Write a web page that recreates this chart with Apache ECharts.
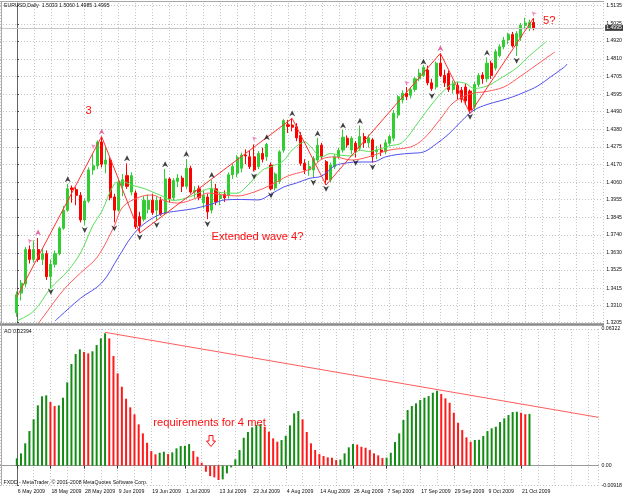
<!DOCTYPE html>
<html>
<head>
<meta charset="utf-8">
<script src="https://cdn.jsdelivr.net/npm/echarts@6/dist/echarts.min.js"></script>
<style>
  html, body { margin: 0; padding: 0; background: #fff; }
  #chart { width: 625px; height: 496px; }
</style>
</head>
<body>
<div id="chart"></div>
<script>
// date labels, one every 8 daily bars
var dateLabels = ['6 May 2009', '18 May 2009', '28 May 2009', '9 Jun 2009', '19 Jun 2009', '1 Jul 2009',
  '13 Jul 2009', '23 Jul 2009', '4 Aug 2009', '14 Aug 2009', '26 Aug 2009', '7 Sep 2009',
  '17 Sep 2009', '29 Sep 2009', '9 Oct 2009', '21 Oct 2009'];

var priceTicks = [1.5135, 1.5025, 1.4920, 1.4810, 1.4705, 1.4595, 1.4490, 1.4380, 1.4275, 1.4170,
  1.4060, 1.3955, 1.3845, 1.3740, 1.3630, 1.3525, 1.3415, 1.3310, 1.3205];
var aoTicks = [0.06322, 0, -0.00918];

// daily bars: open, high, low, close
var candles = [
  [1.3265, 1.3395, 1.3240, 1.3375], [1.3385, 1.3465, 1.3340, 1.3445], [1.3440, 1.3665, 1.3420, 1.3650],
  [1.3650, 1.3675, 1.3565, 1.3590], [1.3590, 1.3705, 1.3570, 1.3650], [1.3650, 1.3720, 1.3575, 1.3590],
  [1.3590, 1.3660, 1.3555, 1.3625], [1.3625, 1.3645, 1.3465, 1.3485], [1.3485, 1.3590, 1.3415, 1.3560],
  [1.3560, 1.3645, 1.3540, 1.3625], [1.3625, 1.3790, 1.3615, 1.3780], [1.3780, 1.3915, 1.3770, 1.3890],
  [1.3890, 1.4050, 1.3880, 1.4020], [1.4025, 1.4040, 1.3935, 1.4015], [1.4015, 1.4030, 1.3920, 1.3980],
  [1.3980, 1.4000, 1.3815, 1.3830], [1.3830, 1.3960, 1.3800, 1.3945], [1.3945, 1.4150, 1.3935, 1.4135],
  [1.4135, 1.4230, 1.4105, 1.4160], [1.4160, 1.4315, 1.4140, 1.4305], [1.4305, 1.4338, 1.4150, 1.4170],
  [1.4170, 1.4275, 1.4115, 1.4195], [1.4195, 1.4210, 1.3950, 1.3965], [1.3970, 1.3990, 1.3815, 1.3890],
  [1.3890, 1.4075, 1.3880, 1.4060], [1.4040, 1.4110, 1.3975, 1.4075], [1.4100, 1.4175, 1.4020, 1.4035],
  [1.4000, 1.4120, 1.3980, 1.4100], [1.3995, 1.4010, 1.3775, 1.3790], [1.3850, 1.3880, 1.3750, 1.3795],
  [1.3835, 1.3975, 1.3820, 1.3950], [1.3895, 1.3985, 1.3870, 1.3950], [1.3950, 1.3990, 1.3860, 1.3875],
  [1.3890, 1.3975, 1.3830, 1.3950], [1.3950, 1.3970, 1.3855, 1.3865], [1.3870, 1.4140, 1.3860, 1.4080],
  [1.4080, 1.4090, 1.3935, 1.3960], [1.3965, 1.4085, 1.3950, 1.4070], [1.4065, 1.4110, 1.4030, 1.4085],
  [1.4085, 1.4100, 1.4000, 1.4035], [1.4035, 1.4200, 1.4020, 1.4145], [1.4145, 1.4160, 1.3990, 1.4000],
  [1.4000, 1.4035, 1.3965, 1.4010], [1.4020, 1.4040, 1.3950, 1.3965], [1.3935, 1.4010, 1.3900, 1.3980],
  [1.3970, 1.3990, 1.3835, 1.3880], [1.3890, 1.4075, 1.3870, 1.4020], [1.4020, 1.4050, 1.3920, 1.3940],
  [1.3960, 1.4000, 1.3920, 1.3980], [1.3985, 1.4010, 1.3940, 1.3965], [1.3980, 1.4120, 1.3960, 1.4105],
  [1.4105, 1.4175, 1.4080, 1.4155], [1.4115, 1.4225, 1.4090, 1.4210], [1.4145, 1.4240, 1.4120, 1.4225],
  [1.4225, 1.4260, 1.4170, 1.4220], [1.4215, 1.4250, 1.4140, 1.4155], [1.4215, 1.4290, 1.4125, 1.4135],
  [1.4155, 1.4250, 1.4140, 1.4235], [1.4235, 1.4270, 1.4180, 1.4200], [1.4215, 1.4300, 1.4190, 1.4290],
  [1.4165, 1.4180, 1.4010, 1.4020], [1.4025, 1.4120, 1.4010, 1.4110], [1.4065, 1.4255, 1.4050, 1.4245],
  [1.4255, 1.4445, 1.4240, 1.4435], [1.4410, 1.4440, 1.4360, 1.4400], [1.4408, 1.4449, 1.4370, 1.4395],
  [1.4398, 1.4420, 1.4310, 1.4330], [1.4345, 1.4365, 1.4160, 1.4175], [1.4175, 1.4200, 1.4110, 1.4135],
  [1.4135, 1.4190, 1.4100, 1.4155], [1.4135, 1.4220, 1.4085, 1.4205], [1.4195, 1.4330, 1.4180, 1.4285],
  [1.4285, 1.4300, 1.4200, 1.4215], [1.4185, 1.4195, 1.4043, 1.4075], [1.4075, 1.4180, 1.4060, 1.4165],
  [1.4155, 1.4230, 1.4140, 1.4215], [1.4215, 1.4270, 1.4200, 1.4255], [1.4256, 1.4380, 1.4240, 1.4334],
  [1.4328, 1.4345, 1.4270, 1.4287], [1.4256, 1.4340, 1.4230, 1.4328], [1.4297, 1.4310, 1.4210, 1.4246],
  [1.4267, 1.4405, 1.4250, 1.4338], [1.4338, 1.4360, 1.4270, 1.4300], [1.4300, 1.4350, 1.4270, 1.4330],
  [1.4318, 1.4330, 1.4180, 1.4215], [1.4246, 1.4280, 1.4200, 1.4256], [1.4256, 1.4290, 1.4220, 1.4246],
  [1.4246, 1.4320, 1.4230, 1.4300], [1.4297, 1.4350, 1.4280, 1.4338], [1.4328, 1.4500, 1.4310, 1.4480],
  [1.4469, 1.4590, 1.4450, 1.4581], [1.4561, 1.4620, 1.4540, 1.4602], [1.4602, 1.4640, 1.4560, 1.4581],
  [1.4590, 1.4640, 1.4570, 1.4625], [1.4625, 1.4700, 1.4610, 1.4690], [1.4690, 1.4750, 1.4675, 1.4725],
  [1.4710, 1.4775, 1.4700, 1.4760], [1.4743, 1.4770, 1.4650, 1.4665], [1.4665, 1.4690, 1.4616, 1.4630],
  [1.4640, 1.4795, 1.4625, 1.4785], [1.4785, 1.4845, 1.4700, 1.4710], [1.4710, 1.4745, 1.4640, 1.4665],
  [1.4722, 1.4740, 1.4610, 1.4625], [1.4625, 1.4680, 1.4600, 1.4660], [1.4650, 1.4670, 1.4560, 1.4600],
  [1.4620, 1.4640, 1.4545, 1.4565], [1.4640, 1.4660, 1.4530, 1.4555], [1.4615, 1.4625, 1.4480, 1.4500],
  [1.4520, 1.4670, 1.4490, 1.4655], [1.4655, 1.4725, 1.4640, 1.4710], [1.4713, 1.4730, 1.4660, 1.4690],
  [1.4690, 1.4820, 1.4670, 1.4785], [1.4785, 1.4800, 1.4690, 1.4710], [1.4755, 1.4870, 1.4740, 1.4855],
  [1.4830, 1.4900, 1.4820, 1.4885], [1.4885, 1.4945, 1.4870, 1.4926], [1.4926, 1.4970, 1.4900, 1.4960],
  [1.4960, 1.4975, 1.4880, 1.4890], [1.4890, 1.4980, 1.4829, 1.4965], [1.4940, 1.5030, 1.4920, 1.5015],
  [1.5015, 1.5061, 1.4990, 1.5030], [1.5000, 1.5050, 1.4980, 1.5033], [1.5033, 1.5060, 1.4985, 1.4995]
];

// Alligator lines: [bar, price]
var jaw = [[9, 1.3215], [10, 1.3239], [15, 1.3353], [20, 1.3446], [24, 1.3605], [27, 1.3726], [30, 1.3806],
  [34, 1.3866], [38, 1.3885], [42, 1.3900], [46, 1.3927], [49, 1.3952], [53, 1.3955], [57, 1.3952],
  [60, 1.3988], [63, 1.4031], [66, 1.4055], [69, 1.4083], [72, 1.4098], [75, 1.4159], [78, 1.4178],
  [81, 1.4183], [84, 1.4183], [87, 1.4214], [90, 1.4229], [93, 1.4236], [96, 1.4244], [99, 1.4293],
  [102, 1.4354], [105, 1.4433], [108, 1.4500], [111, 1.4533], [114, 1.4555], [117, 1.4579], [120, 1.4610],
  [123, 1.4646], [126, 1.4701], [129, 1.4756], [130, 1.4780]];
var teeth = [[4, 1.3163], [6, 1.3233], [11, 1.3404], [15, 1.3507], [19, 1.3605], [23, 1.3794], [25, 1.3910],
  [29, 1.3970], [32, 1.3982], [35, 1.3946], [38, 1.3933], [43, 1.3970], [45, 1.3994], [49, 1.3982],
  [52, 1.3976], [56, 1.4000], [60, 1.4043], [64, 1.4098], [68, 1.4128], [70, 1.4153], [72, 1.4201],
  [75, 1.4214], [79, 1.4195], [83, 1.4214], [88, 1.4256], [93, 1.4275], [96, 1.4323], [100, 1.4445],
  [103, 1.4543], [107, 1.4597], [111, 1.4613], [115, 1.4640], [119, 1.4707], [124, 1.4798], [127, 1.4853]];
var lips = [[0, 1.3215], [4, 1.3276], [8, 1.3416], [12, 1.3519], [15, 1.3629], [18, 1.3800], [20, 1.3880],
  [23, 1.4049], [25, 1.4064], [27, 1.4043], [30, 1.4022], [34, 1.3979], [37, 1.3949], [41, 1.3973],
  [46, 1.4022], [48, 1.3997], [52, 1.3993], [54, 1.4028], [58, 1.4134], [60, 1.4154], [63, 1.4192],
  [65, 1.4256], [68, 1.4305], [69, 1.4287], [72, 1.4214], [74, 1.4235], [76, 1.4226], [79, 1.4220],
  [81, 1.4256], [83, 1.4247], [86, 1.4265], [88, 1.4281], [91, 1.4302], [95, 1.4433], [98, 1.4536],
  [101, 1.4622], [104, 1.4670], [106, 1.4661], [108, 1.4631], [111, 1.4646], [114, 1.4689], [118, 1.4756],
  [121, 1.4829], [125, 1.4916]];

var zigzag = [[0, 1.3362], [20, 1.4338], [29, 1.3750], [65, 1.4449], [73, 1.4043], [100, 1.4845],
  [107, 1.4480], [122, 1.5060]];

var fractalUp = [[12, 1.4078], [26, 1.4206], [35, 1.4169], [40, 1.4232], [46, 1.4104], [59, 1.4334],
  [65, 1.4479], [71, 1.4357], [77, 1.4405], [81, 1.4433], [96, 1.4794], [111, 1.4849]];
var fractalDown = [[8, 1.3393], [16, 1.3769], [23, 1.3779], [29, 1.3725], [33, 1.3799], [45, 1.3806],
  [56, 1.4095], [60, 1.3980], [70, 1.4058], [73, 1.4020], [80, 1.4179], [84, 1.4151], [98, 1.4585],
  [107, 1.4459], [118, 1.4800]];
var pinkUp = [[5, 1.3753], [20, 1.4368], [100, 1.4876]];
var pinkTilt = [[3, 1.3704], [18, 1.4281], [56, 1.4327], [92, 1.4666], [122, 1.5089]];

// Awesome Oscillator, one value per bar
var ao = [0.00338, 0.00569, 0.01032, 0.01601, 0.02142, 0.0279, 0.03207, 0.03253, 0.02943, 0.02758,
  0.0279, 0.03142, 0.03854, 0.04701, 0.05164, 0.05381, 0.05256, 0.05196, 0.05289, 0.0558,
  0.0589, 0.06122, 0.0589, 0.05071, 0.04271, 0.03651, 0.03095, 0.02698, 0.02374, 0.01911,
  0.01495, 0.0106, 0.00676, 0.00523, 0.00597, 0.00643, 0.00537, 0.00615, 0.008, 0.00907,
  0.00921, 0.00999, 0.00676, 0.00412, 0.00134, -0.00282, -0.00481, -0.00541, -0.00666, -0.00634,
  -0.00356, -0.00079, 0.00292, 0.00722, 0.01291, 0.01555, 0.01772, 0.01879, 0.01925, 0.018,
  0.01569, 0.01263, 0.01106, 0.01185, 0.01383, 0.01865, 0.0242, 0.02526, 0.02142, 0.01555,
  0.01032, 0.00722, 0.00537, 0.00444, 0.00384, 0.00366, 0.00259, 0.00282, 0.00569, 0.00847,
  0.00999, 0.00976, 0.00875, 0.00828, 0.00722, 0.00569, 0.00477, 0.00352, 0.0037, 0.00597,
  0.01092, 0.01495, 0.0211, 0.02573, 0.02758, 0.02883, 0.03035, 0.03142, 0.0322, 0.03373,
  0.03466, 0.03313, 0.03114, 0.0291, 0.02448, 0.01985, 0.01647, 0.01309, 0.01106, 0.01185,
  0.01198, 0.0137, 0.01601, 0.01726, 0.018, 0.02017, 0.02189, 0.02341, 0.0248, 0.02494,
  0.02448, 0.0238, 0.02394];
var aoTrend = [[21, 0.06168], [138.43, 0.02235]];

var FONT = '"Liberation Sans", Arial, sans-serif';
var UP_PATH = 'path://M5 0 L10 10 L5 7 L0 10 Z';
var DOWN_PATH = 'path://M0 0 L5 3 L10 0 L5 10 Z';

var chart = echarts.init(document.getElementById('chart'), null, { renderer: 'canvas' });

var gridLine = { show: true, lineStyle: { color: '#c4c4c4', width: 1, type: [1, 2] } };
var xCommon = { type: 'value', min: -4, max: 138.43, interval: 4 };

var option = {
  animation: false,
  backgroundColor: '#ffffff',
  textStyle: { fontFamily: FONT },
  grid: [
    { left: -15.7, width: 619.7, top: 3, height: 320 },
    { left: -15.7, width: 619.7, top: 329, height: 156.5 }
  ],
  xAxis: [
    Object.assign({ gridIndex: 0, axisLine: { show: false }, axisTick: { show: false },
      axisLabel: { show: false }, splitLine: gridLine }, xCommon),
    Object.assign({ gridIndex: 1, position: 'bottom',
      axisLine: { show: true, lineStyle: { color: '#9a9a9a' } },
      axisTick: { show: true, length: 3, customValues: dateLabels.map(function (d, k) { return k * 8; }),
        lineStyle: { color: '#333' } },
      axisLabel: { show: true, customValues: dateLabels.map(function (d, k) { return k * 8; }),
        formatter: function (v) { return dateLabels[Math.round(v / 8)] || ''; },
        fontSize: 5.2, color: '#111', align: 'left', margin: 4, padding: [0, 0, 0, 1] },
      splitLine: { show: false } }, xCommon),
    Object.assign({ gridIndex: 1, position: 'top', axisLine: { show: false }, axisTick: { show: false },
      axisLabel: { show: false }, splitLine: gridLine }, xCommon)
  ],
  yAxis: [
    { type: 'value', gridIndex: 0, position: 'right', min: 1.32026, max: 1.51514,
      axisLine: { show: true, lineStyle: { color: '#666' } },
      axisTick: { show: true, length: 2, customValues: priceTicks, lineStyle: { color: '#444' } },
      axisLabel: { customValues: priceTicks, formatter: function (v) { return v.toFixed(4); },
        fontSize: 5.2, color: '#111', margin: 3 },
      splitLine: gridLine },
    { type: 'value', gridIndex: 1, position: 'right', min: -0.00918, max: 0.06322,
      axisLine: { show: true, lineStyle: { color: '#666' } },
      axisTick: { show: true, length: 2, customValues: aoTicks, lineStyle: { color: '#444' } },
      axisLabel: { customValues: aoTicks,
        formatter: function (v) { return v === 0 ? '0.00' : v.toFixed(5); },
        fontSize: 5.2, color: '#111', margin: 3 },
      splitLine: gridLine }
  ],
  series: [
    {
      type: 'candlestick', xAxisIndex: 0, yAxisIndex: 0, barWidth: 2.6, z: 3,
      data: candles.map(function (c, i) { return [i, c[0], c[3], c[2], c[1]]; }),
      itemStyle: { color: '#32cd32', color0: '#ff0000', borderColor: '#32cd32', borderColor0: '#ff0000', borderWidth: 1 },
      markLine: {
        silent: true, symbol: 'none', animation: false,
        lineStyle: { color: '#c8c8c8', type: 'solid', width: 1 },
        label: { position: 'end', formatter: '1.4995', fontSize: 5.2, color: '#fff',
          backgroundColor: '#3a3a3a', padding: [1, 1, 0, 1], distance: 2 },
        data: [{ yAxis: 1.4995 }]
      }
    },
    { type: 'line', xAxisIndex: 0, yAxisIndex: 0, data: jaw, smooth: 0.35, showSymbol: false, z: 4,
      lineStyle: { color: '#5050f0', width: 1 } },
    { type: 'line', xAxisIndex: 0, yAxisIndex: 0, data: teeth, smooth: 0.35, showSymbol: false, z: 4,
      lineStyle: { color: '#ff5a5a', width: 1 } },
    { type: 'line', xAxisIndex: 0, yAxisIndex: 0, data: lips, smooth: 0.35, showSymbol: false, z: 4,
      lineStyle: { color: '#58e058', width: 1 } },
    { type: 'line', xAxisIndex: 0, yAxisIndex: 0, data: zigzag, showSymbol: false, z: 5,
      lineStyle: { color: '#ff3030', width: 1 } },
    { type: 'scatter', xAxisIndex: 0, yAxisIndex: 0, data: fractalUp, symbol: UP_PATH, symbolSize: [6, 6], z: 6,
      itemStyle: { color: '#111' } },
    { type: 'scatter', xAxisIndex: 0, yAxisIndex: 0, data: fractalDown, symbol: DOWN_PATH, symbolSize: [6, 6], z: 6,
      itemStyle: { color: '#111' } },
    { type: 'scatter', xAxisIndex: 0, yAxisIndex: 0, data: pinkUp, symbol: UP_PATH, symbolSize: [6, 6], z: 6,
      itemStyle: { color: '#e0408a' } },
    { type: 'scatter', xAxisIndex: 0, yAxisIndex: 0, data: pinkTilt, symbol: UP_PATH, symbolSize: [5, 5],
      symbolRotate: 45, z: 6, itemStyle: { color: '#f070b0' } },
    {
      type: 'bar', xAxisIndex: 1, yAxisIndex: 1, barWidth: 2, z: 3,
      data: ao.map(function (v, i) { return [i, v]; }),
      itemStyle: {
        color: function (p) {
          var i = p.dataIndex;
          return (i === 0 || ao[i] > ao[i - 1]) ? '#128c12' : '#ff1a1a';
        }
      }
    },
    { type: 'line', xAxisIndex: 1, yAxisIndex: 1, data: aoTrend, showSymbol: false, z: 5,
      lineStyle: { color: '#ff5c5c', width: 1 } }
  ],
  graphic: [
    { type: 'rect', shape: { x: 0, y: 323.3, width: 604, height: 2.4 }, style: { fill: '#8a8a8a' }, z: 50 },
    { type: 'line', shape: { x1: 0, y1: 1.5, x2: 604, y2: 1.5 }, style: { stroke: '#a8a8a8', lineWidth: 1 }, z: 50 },
    { type: 'line', shape: { x1: 1.5, y1: 1.5, x2: 1.5, y2: 485.5 }, style: { stroke: '#a8a8a8', lineWidth: 1 }, z: 50 },
    { type: 'text', x: 4, y: 6, z: 50,
      style: { text: 'EURUSD,Daily  1.5033 1.5060 1.4985 1.4995', font: '5.2px ' + FONT, fill: '#111', verticalAlign: 'middle' } },
    { type: 'text', x: 4, y: 331.5, z: 50,
      style: { text: 'AO 0.02394', font: '5.2px ' + FONT, fill: '#111', verticalAlign: 'middle' } },
    { type: 'text', x: 3.5, y: 482.7, z: 50,
      style: { text: 'FXDD - MetaTrader, \u00a9 2001-2008 MetaQuotes Software Corp.', font: '5.2px ' + FONT, fill: '#111', verticalAlign: 'middle' } },
    { type: 'text', x: 88.5, y: 110.5, z: 50,
      style: { text: '3', font: '11.2px ' + FONT, fill: '#ff1010', align: 'center', verticalAlign: 'middle' } },
    { type: 'text', x: 543, y: 21, z: 50,
      style: { text: '5?', font: '11.2px ' + FONT, fill: '#ff1010', verticalAlign: 'middle' } },
    { type: 'text', x: 211.5, y: 236.5, z: 50,
      style: { text: 'Extended wave 4?', font: '11.2px ' + FONT, fill: '#ff1010', verticalAlign: 'middle' } },
    { type: 'text', x: 153.3, y: 422.5, z: 50,
      style: { text: 'requirements for 4 met', font: '11.2px ' + FONT, fill: '#ff1010', verticalAlign: 'middle' } },
    { type: 'polygon', z: 50,
      shape: { points: [[209, 435.5], [213, 435.5], [213, 441], [215.5, 441], [211, 446.5], [206.5, 441], [209, 441]] },
      style: { fill: '#fff', stroke: '#ff1010', lineWidth: 1 } }
  ]
};

chart.setOption(option);
</script>
</body>
</html>
